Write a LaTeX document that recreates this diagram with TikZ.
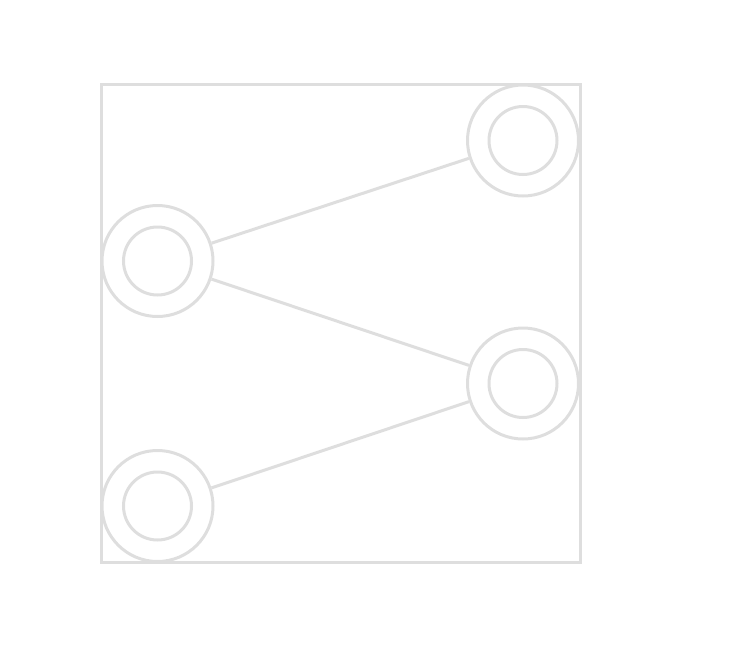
\documentclass[tikz,border=0pt]{standalone}
\usetikzlibrary{positioning}
\definecolor{ringgray}{HTML}{DEDEDE}
\tikzstyle{ring}=[circle, minimum size=111pt, inner sep=0pt, draw=ringgray, line width=3pt]
\tikzstyle{core}=[circle, minimum size=68pt, inner sep=0pt, draw=ringgray, line width=3pt]
\begin{document}
\begin{tikzpicture}[x=1pt, y=-1pt]
      \useasboundingbox (0, 0) rectangle (731, 659);
      \draw[ringgray, line width=3pt] (101, 84) rectangle (580, 562);
      \node[ring] (a) at (157.5, 261) {};
      \node[ring] (b) at (523, 140.5) {};
      \node[ring] (c) at (523, 383.5) {};
      \node[ring] (d) at (157.5, 506) {};
      \node[core] (a-in) at (a) {};
      \node[core] (b-in) at (b) {};
      \node[core] (c-in) at (c) {};
      \node[core] (d-in) at (d) {};
      \draw[ringgray, line width=3pt] (a) -- (b);
      \draw[ringgray, line width=3pt] (a) -- (c);
      \draw[ringgray, line width=3pt] (d) -- (c);
    \end{tikzpicture}
\end{document}
